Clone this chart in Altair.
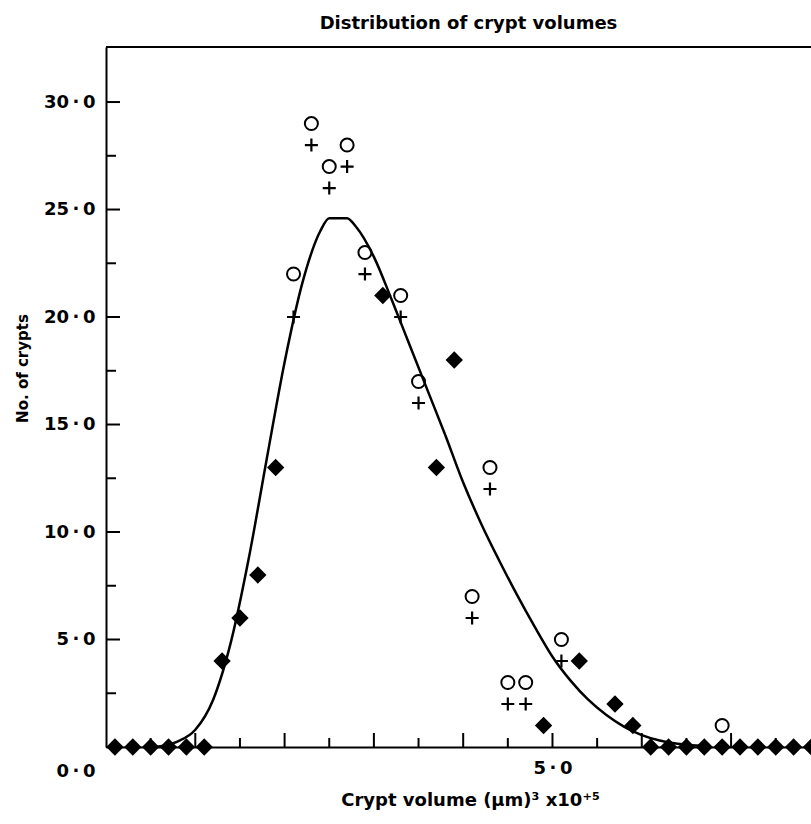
import altair as alt
import pandas as pd

# ---- data ----
diamond_x = [0.1, 0.3, 0.5, 0.7, 0.9, 1.1, 1.3, 1.5, 1.7, 1.9, 3.1, 3.7, 3.9, 4.9,
             5.3, 5.7, 5.9, 6.1, 6.3, 6.5, 6.7, 6.9, 7.1, 7.3, 7.5, 7.7, 7.9]
diamond_y = [0, 0, 0, 0, 0, 0, 4, 6, 8, 13, 21, 13, 18, 1,
             4, 2, 1, 0, 0, 0, 0, 0, 0, 0, 0, 0, 0]
circle_x = [2.1, 2.3, 2.5, 2.7, 2.9, 3.3, 3.5, 4.1, 4.3, 4.5, 4.7, 5.1, 6.9]
circle_y = [22, 29, 27, 28, 23, 21, 17, 7, 13, 3, 3, 5, 1]
plus_x = [2.1, 2.3, 2.5, 2.7, 2.9, 3.3, 3.5, 4.1, 4.3, 4.5, 4.7, 5.1]
plus_y = [20, 28, 26, 27, 22, 20, 16, 6, 12, 2, 2, 4]
curve_x = [0.55, 0.8, 1.0, 1.2, 1.4, 1.6, 1.8, 2.0, 2.2, 2.4, 2.5, 2.7, 2.8, 3.0,
           3.2, 3.4, 3.6, 3.8, 4.0, 4.2, 4.4, 4.6, 4.8, 5.0, 5.2, 5.4, 5.6, 5.8,
           6.0, 6.2, 6.4, 6.7]
curve_y = [0.0, 0.25, 0.8, 2.2, 4.9, 8.8, 13.4, 17.9, 21.6, 24.0, 24.6, 24.6, 24.2, 22.8,
           20.8, 18.7, 16.6, 14.5, 12.3, 10.4, 8.7, 7.1, 5.6, 4.2, 3.1, 2.2, 1.5, 0.95,
           0.55, 0.3, 0.15, 0.05]
y_major_ticks = [0, 5, 10, 15, 20, 25, 30]
y_minor_ticks = [2.5, 7.5, 12.5, 17.5, 22.5, 27.5]
x_major_ticks = [1, 2, 3, 4, 5, 6, 7]
x_minor_ticks = [0.5, 1.5, 2.5, 3.5, 4.5, 5.5, 6.5, 7.5]
x_label_values = [5]

W, H = 705, 700
FONT = "DejaVu Sans"

xscale = alt.Scale(domain=[0, 7.895], nice=False, zero=False)
yscale = alt.Scale(domain=[0, 32.56], nice=False, zero=False)

dot_expr = "replace(format(datum.value, '.1f'), '.', '\u2009\u00b7\u2009')"

x_axis = alt.Axis(
    values=x_label_values, labelExpr=dot_expr, ticks=False, grid=False,
    domainColor="black", domainWidth=2,
    labelFont=FONT, labelFontSize=18, labelFontWeight="bold", labelColor="black",
    labelPadding=12,
    title="Crypt volume (\u03bcm)\u00b3 x10\u207a\u2075",
    titleFont=FONT, titleFontSize=18, titleFontWeight="bold", titleColor="black",
    titleX=364, titleY=53, titleAlign="center", titleBaseline="middle",
)
y_axis = alt.Axis(
    values=y_major_ticks, labelExpr=dot_expr, ticks=False, grid=False,
    domainColor="black", domainWidth=2,
    labelFont=FONT, labelFontSize=18, labelFontWeight="bold", labelColor="black",
    labelPadding=11,
    labelOffset={"condition": {"test": "datum.value === 0", "value": 24}, "value": 0},
    title="No. of crypts",
    titleFont=FONT, titleFontSize=15, titleFontWeight="bold", titleColor="black",
    titleX=-84, titleY=321, titleAngle=270, titleAlign="center", titleBaseline="middle",
)

curve_df = pd.DataFrame({"x": curve_x, "y": curve_y})
dia_df = pd.DataFrame({"x": diamond_x, "y": diamond_y})
cir_df = pd.DataFrame({"x": circle_x, "y": circle_y})
plus_df = pd.DataFrame({"x": plus_x, "y": plus_y})


def X(f):
    return alt.X(f, scale=xscale, axis=x_axis)


def Y(f):
    return alt.Y(f, scale=yscale, axis=y_axis)


curve = alt.Chart(curve_df).mark_line(
    color="black", strokeWidth=2.5, interpolate="monotone"
).encode(x=X("x:Q"), y=Y("y:Q"))

diamonds = alt.Chart(dia_df).mark_point(
    shape="diamond", filled=True, color="black", size=300, opacity=1
).encode(x=X("x:Q"), y=Y("y:Q"))

circles = alt.Chart(cir_df).mark_point(
    shape="circle", filled=False, color="black", size=170, strokeWidth=2, opacity=1
).encode(x=X("x:Q"), y=Y("y:Q"))

plus = alt.Chart(plus_df).mark_point(
    shape="M-1,0L1,0M0,-1L0,1", filled=False, color="black", size=170,
    strokeWidth=2.2, opacity=1
).encode(x=X("x:Q"), y=Y("y:Q"))

ymaj = alt.Chart(pd.DataFrame({"y": y_major_ticks})).mark_rule(
    color="black", strokeWidth=2
).encode(y=Y("y:Q"), x=alt.value(0), x2=alt.value(14))
ymin = alt.Chart(pd.DataFrame({"y": y_minor_ticks})).mark_rule(
    color="black", strokeWidth=2
).encode(y=Y("y:Q"), x=alt.value(0), x2=alt.value(10))
xmaj = alt.Chart(pd.DataFrame({"x": x_major_ticks})).mark_rule(
    color="black", strokeWidth=2
).encode(x=X("x:Q"), y=alt.value(H), y2=alt.value(H - 14))
xmin = alt.Chart(pd.DataFrame({"x": x_minor_ticks})).mark_rule(
    color="black", strokeWidth=2
).encode(x=X("x:Q"), y=alt.value(H), y2=alt.value(H - 9))
top = alt.Chart(pd.DataFrame({"a": [0]})).mark_rule(
    color="black", strokeWidth=2
).encode(x=alt.value(0), x2=alt.value(W), y=alt.value(0))

chart = alt.layer(curve, ymaj, ymin, xmaj, xmin, top, diamonds, circles, plus).properties(
    width=W, height=H,
    padding={"left": 106, "top": 47, "right": 0, "bottom": 77},
    autosize=alt.AutoSizeParams(type="none"),
    title=alt.TitleParams(
        "Distribution of crypt volumes", font=FONT, fontSize=18, fontWeight="bold",
        color="black", anchor="middle", dx=10, offset=13,
    ),
).configure_view(strokeWidth=0).configure(background="white")

chart.save("out.html", embed_options={"renderer": "svg", "actions": False})
